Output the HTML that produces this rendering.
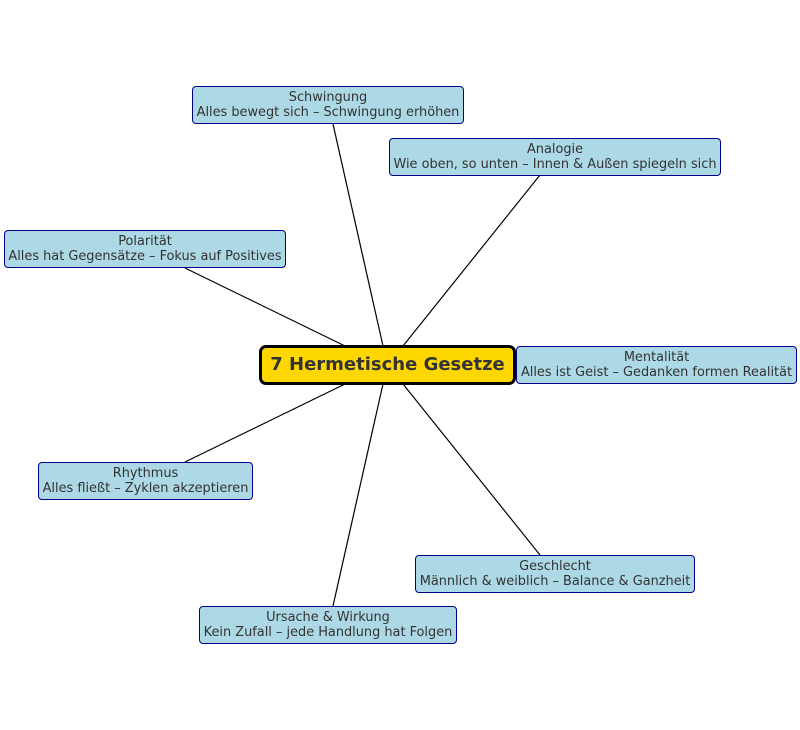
<!DOCTYPE html>
<html><head><meta charset="utf-8"><style>
body{margin:0;width:800px;height:730px;background:#fff;position:relative;overflow:hidden;font-family:"DejaVu Sans","Liberation Sans",sans-serif;}
.n{position:absolute;box-sizing:border-box;background:#add8e6;border:1px solid #00008b;border-radius:4px;color:#333;font-size:12.9px;line-height:15px;text-align:center;padding-top:3px;white-space:nowrap;}
.c{position:absolute;box-sizing:border-box;left:259px;top:345px;width:257px;height:40px;background:#ffd700;border:3px solid #000;border-radius:7px;color:#333;font-weight:bold;font-size:18px;line-height:34px;text-align:center;white-space:nowrap;}
svg{position:absolute;left:0;top:0;}
</style></head><body>
<svg width="800" height="730"><g stroke="#000" stroke-width="1.2">
<line x1="333" y1="124" x2="383" y2="346"/>
<line x1="540" y1="175" x2="403" y2="346"/>
<line x1="185" y1="268" x2="345" y2="346"/>
<line x1="185" y1="462" x2="345" y2="384"/>
<line x1="540" y1="555" x2="403" y2="384"/>
<line x1="333" y1="606" x2="383" y2="384"/>
</g></svg>
<div class="n" style="left:192px;top:86px;width:272px;height:38px">Schwingung<br>Alles bewegt sich – Schwingung erhöhen</div>
<div class="n" style="left:389px;top:138px;width:332px;height:38px">Analogie<br>Wie oben, so unten – Innen &amp; Außen spiegeln sich</div>
<div class="n" style="left:4px;top:230px;width:282px;height:38px">Polarität<br>Alles hat Gegensätze – Fokus auf Positives</div>
<div class="n" style="left:516px;top:346px;width:281px;height:38px">Mentalität<br>Alles ist Geist – Gedanken formen Realität</div>
<div class="n" style="left:38px;top:462px;width:215px;height:38px">Rhythmus<br>Alles fließt – Zyklen akzeptieren</div>
<div class="n" style="left:415px;top:555px;width:280px;height:38px">Geschlecht<br>Männlich &amp; weiblich – Balance &amp; Ganzheit</div>
<div class="n" style="left:199px;top:606px;width:258px;height:38px">Ursache &amp; Wirkung<br>Kein Zufall – jede Handlung hat Folgen</div>
<div class="c">7 Hermetische Gesetze</div>
</body></html>
